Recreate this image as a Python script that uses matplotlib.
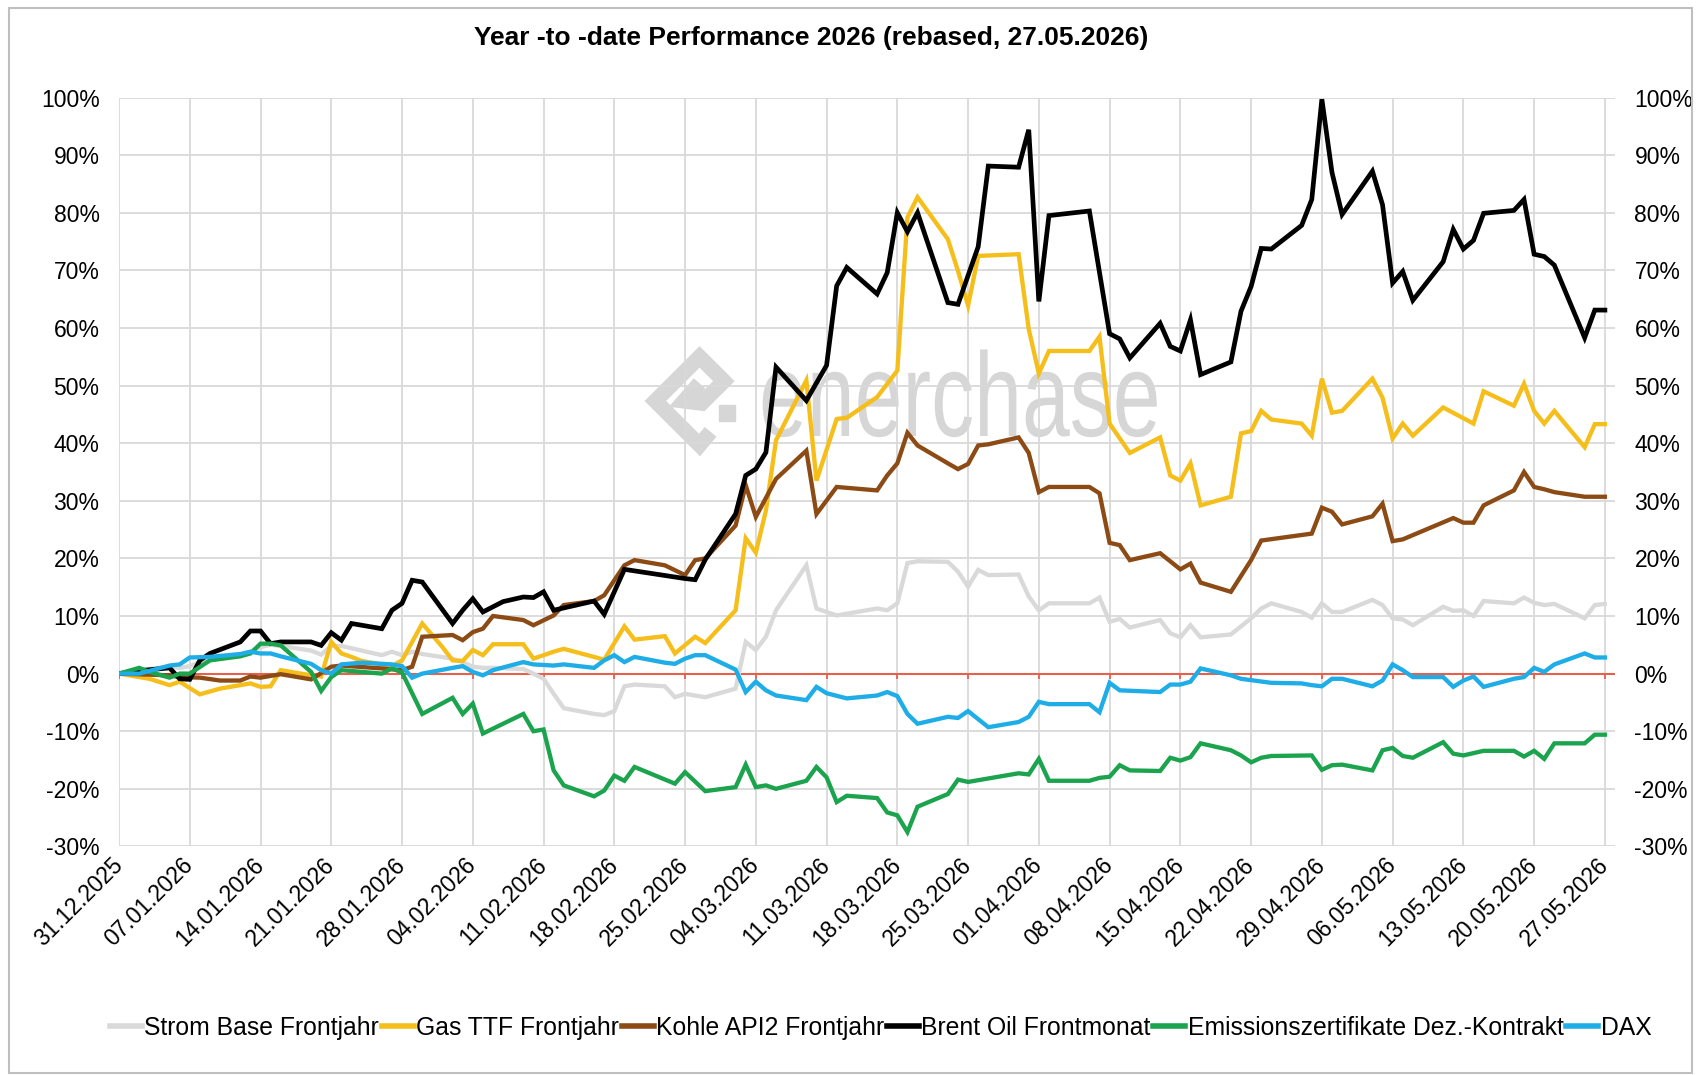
import numpy as np
import pandas as pd
import matplotlib
matplotlib.use("Agg")
import matplotlib.pyplot as plt
import matplotlib.transforms as mtransforms
from matplotlib.patches import Rectangle, Polygon, PathPatch
from matplotlib.lines import Line2D
from matplotlib.textpath import TextPath
from matplotlib.font_manager import FontProperties

plt.rcParams['font.family'] = ['Liberation Sans', 'DejaVu Sans']

# ================================================================
# Daten: Tage seit 31.12.2025, Performance in %
# ================================================================
start = pd.Timestamp('2025-12-31')
end = pd.Timestamp('2026-05-27')

strom_days = [0, 2, 5, 6, 7, 8, 9, 12, 13, 14, 15, 16, 19, 20, 21, 22, 23, 26, 27, 28, 29, 30,
              33, 34, 35, 36, 37, 40, 41, 42, 43, 44, 47, 48, 49, 50, 51, 54, 55, 56, 58,
              61, 62, 63, 64, 65, 68, 69, 71, 75, 76, 77, 78, 79, 82, 83, 84, 85, 86,
              89, 90, 91, 92, 96, 97, 98, 99, 100, 103, 104, 105, 106, 107, 110, 112, 113, 114,
              117, 118, 119, 120, 121, 124, 125, 126, 127, 128, 131, 132, 133, 134, 135,
              138, 139, 140, 141, 142, 145, 146, 147]
strom_vals = [0.0, 0.6, 1.2, 1.0, 1.3, 2.0, 2.4, 3.2, 3.8, 4.6, 5.0, 4.8, 4.0, 3.3, 4.8, 4.8, 4.4,
              3.2, 3.8, 3.2, 3.8, 3.4, 2.6, 2.0, 1.2, 1.0, 1.0, 0.8, 0.0, -0.9, -3.5, -6.0,
              -7.0, -7.2, -6.5, -2.2, -1.9, -2.2, -4.1, -3.5, -4.1, -2.6, 5.5, 4.1, 6.4, 11.0,
              18.8, 11.3, 10.1, 11.3, 11.0, 12.2, 19.2, 19.5, 19.4, 17.7, 15.1, 18.0, 17.1,
              17.2, 13.4, 11.0, 12.2, 12.2, 13.2, 9.0, 9.5, 8.0, 9.3, 7.0, 6.3, 8.4, 6.3,
              6.8, 9.6, 11.3, 12.2, 10.7, 9.7, 12.2, 10.7, 10.7, 12.8, 11.9, 9.6, 9.4, 8.4,
              11.6, 10.9, 11.0, 10.0, 12.6, 12.2, 13.2, 12.3, 11.9, 12.1, 9.6, 11.9, 12.1]

gas_days = [0, 3, 5, 6, 8, 10, 13, 14, 15, 16, 19, 20, 21, 22, 23, 24, 27, 28, 30, 32, 33, 34,
            35, 36, 37, 40, 41, 43, 44, 47, 48, 50, 51, 54, 55, 57, 58, 61, 62, 63, 64, 65,
            68, 69, 71, 72, 75, 77, 78, 79, 82, 83, 84, 85, 89, 90, 91, 92, 96, 97, 98, 100,
            103, 104, 105, 106, 107, 110, 111, 112, 113, 114, 117, 118, 119, 120, 121,
            124, 125, 126, 127, 128, 131, 134, 135, 138, 139, 140, 141, 142, 145, 146, 147]
gas_vals = [0.0, -0.9, -2.0, -1.4, -3.6, -2.6, -1.7, -2.3, -2.2, 0.6, -0.3, -0.5, 5.5, 3.5, 2.9,
            2.2, 1.3, 2.3, 8.7, 4.6, 2.3, 2.2, 4.1, 3.2, 5.1, 5.1, 2.6, 3.8, 4.3, 2.9, 2.4,
            8.2, 5.9, 6.5, 3.5, 6.4, 5.3, 11.0, 23.5, 21.0, 28.3, 40.5, 50.9, 33.5, 44.2,
            44.4, 48.0, 52.6, 79.2, 82.7, 75.4, 69.9, 63.9, 72.5, 72.8, 59.8, 52.1, 56.0,
            56.0, 58.5, 43.4, 38.3, 41.0, 34.4, 33.5, 36.5, 29.2, 30.7, 41.7, 42.1, 45.6,
            44.1, 43.4, 41.3, 51.2, 45.3, 45.6, 51.2, 47.9, 40.8, 43.4, 41.3, 46.2, 43.4,
            49.0, 46.5, 50.3, 45.6, 43.4, 45.6, 39.3, 43.3, 43.3]

kohle_days = [0, 5, 6, 8, 10, 12, 13, 14, 16, 19, 21, 22, 26, 28, 29, 30, 33, 34, 35, 36, 37,
              40, 41, 43, 44, 47, 48, 50, 51, 54, 56, 57, 58, 61, 62, 63, 65, 68, 69, 71,
              75, 76, 77, 78, 79, 82, 83, 84, 85, 86, 89, 90, 91, 92, 96, 97, 98, 99, 100,
              103, 105, 106, 107, 110, 112, 113, 118, 119, 120, 121, 124, 125, 126, 127,
              132, 133, 134, 135, 138, 139, 140, 141, 142, 145, 147]
kohle_vals = [0.0, -0.3, -0.6, -0.7, -1.2, -1.2, -0.5, -0.7, -0.1, -1.0, 1.2, 1.4, 0.9, 0.6,
              1.2, 6.4, 6.7, 5.8, 7.2, 7.8, 10.0, 9.3, 8.4, 10.1, 11.9, 12.6, 13.6, 18.8,
              19.7, 18.8, 17.1, 19.7, 20.0, 25.7, 32.7, 27.2, 33.8, 38.7, 27.7, 32.4, 31.8,
              34.4, 36.5, 41.8, 39.6, 36.5, 35.5, 36.4, 39.6, 39.8, 41.0, 38.3, 31.5, 32.4,
              32.4, 31.3, 22.7, 22.3, 19.7, 20.9, 18.1, 19.1, 15.8, 14.2, 19.7, 23.1, 24.3,
              28.8, 28.1, 25.9, 27.3, 29.5, 23.0, 23.3, 27.0, 26.2, 26.2, 29.2, 31.8, 35.0,
              32.4, 32.0, 31.5, 30.7, 30.7]

brent_days = [0, 2, 5, 6, 7, 8, 9, 12, 13, 14, 15, 16, 19, 20, 21, 22, 23, 26, 27, 28, 29, 30,
              33, 34, 35, 36, 37, 38, 40, 41, 42, 43, 47, 48, 50, 56, 57, 58, 61, 62, 63, 64,
              65, 68, 70, 71, 72, 75, 76, 77, 78, 79, 82, 83, 85, 86, 89, 90, 91, 92, 96,
              98, 99, 100, 103, 104, 105, 106, 107, 110, 111, 112, 113, 114, 117, 118, 119,
              120, 121, 124, 125, 126, 127, 128, 131, 132, 133, 134, 135, 138, 139, 140,
              141, 142, 145, 146, 147]
brent_vals = [0.0, 0.5, 1.0, -0.9, -1.0, 2.3, 3.5, 5.5, 7.4, 7.4, 5.2, 5.5, 5.5, 4.9, 7.1, 5.8,
              8.7, 7.8, 11.0, 12.2, 16.2, 15.9, 8.7, 11.0, 13.0, 10.7, 11.6, 12.5, 13.3, 13.2,
              14.2, 11.0, 12.6, 10.3, 18.1, 16.5, 16.3, 19.8, 27.7, 34.4, 35.5, 38.4, 53.2,
              47.4, 53.5, 67.3, 70.5, 65.9, 69.6, 80.0, 76.7, 80.0, 64.4, 64.1, 74.1, 88.1,
              87.9, 94.4, 64.6, 79.5, 80.3, 59.0, 58.1, 54.8, 60.8, 56.8, 56.0, 61.4, 51.9,
              54.1, 62.9, 67.2, 73.8, 73.7, 77.8, 82.3, 99.7, 87.0, 79.7, 87.2, 81.4, 67.8,
              69.8, 64.8, 71.5, 77.1, 73.7, 75.2, 79.9, 80.4, 82.3, 72.8, 72.4, 70.9, 58.3,
              63.1, 63.1]

emis_days = [0, 2, 3, 5, 6, 7, 9, 12, 13, 14, 15, 16, 19, 20, 21, 22, 26, 27, 28, 30, 33, 34,
             35, 36, 40, 41, 42, 43, 44, 47, 48, 49, 50, 51, 55, 56, 58, 61, 62, 63, 64, 65,
             68, 69, 70, 71, 72, 75, 76, 77, 78, 79, 82, 83, 84, 89, 90, 91, 92, 96, 97, 98,
             99, 100, 103, 104, 105, 106, 107, 110, 111, 112, 113, 114, 118, 119, 120, 121,
             124, 125, 126, 127, 128, 131, 132, 133, 135, 138, 139, 140, 141, 142, 145, 146, 147]
emis_vals = [0.0, 1.0, 0.3, -0.7, 0.0, 0.0, 2.3, 3.0, 3.5, 5.2, 5.2, 4.9, 0.3, -3.0, -0.6, 0.6,
             0.0, 0.9, 0.2, -7.0, -4.2, -7.0, -5.2, -10.4, -7.0, -10.0, -9.7, -16.8, -19.4,
             -21.3, -20.3, -17.7, -18.6, -16.2, -19.1, -17.1, -20.4, -19.7, -15.8, -19.7,
             -19.4, -20.0, -18.6, -16.2, -18.0, -22.3, -21.2, -21.6, -24.1, -24.6, -27.5,
             -23.1, -20.9, -18.4, -18.8, -17.3, -17.5, -14.8, -18.6, -18.6, -18.1, -17.9,
             -15.9, -16.8, -16.9, -14.6, -15.1, -14.5, -12.1, -13.3, -14.2, -15.4, -14.6,
             -14.3, -14.2, -16.7, -15.9, -15.8, -16.8, -13.3, -12.9, -14.3, -14.6, -11.9,
             -13.9, -14.2, -13.4, -13.4, -14.4, -13.4, -14.8, -12.1, -12.1, -10.6, -10.6]

dax_days = [0, 2, 5, 6, 7, 9, 12, 13, 14, 15, 16, 19, 20, 21, 22, 24, 27, 28, 29, 30, 33, 34,
            35, 36, 37, 40, 41, 43, 44, 47, 48, 49, 50, 51, 54, 55, 56, 57, 58, 61, 62, 63,
            64, 65, 68, 69, 70, 72, 75, 76, 77, 78, 79, 82, 83, 84, 86, 89, 90, 91, 92, 96,
            97, 98, 99, 103, 104, 105, 106, 107, 110, 111, 114, 117, 118, 119, 120, 121, 124,
            125, 126, 127, 128, 131, 132, 133, 134, 135, 138, 139, 140, 141, 142, 145, 146, 147]
dax_vals = [0.0, 0.0, 1.4, 1.6, 2.8, 2.9, 3.4, 3.8, 3.5, 3.5, 3.0, 1.7, 0.6, 0.0, 1.6, 1.9, 1.6,
            1.3, -0.7, 0.0, 1.0, 1.3, 0.3, -0.3, 0.6, 2.0, 1.6, 1.4, 1.6, 1.0, 2.3, 3.2, 2.0,
            2.9, 1.9, 1.7, 2.6, 3.2, 3.2, 0.7, -3.2, -1.4, -2.9, -3.8, -4.6, -2.3, -3.4, -4.3,
            -3.8, -3.2, -3.9, -7.0, -8.7, -7.5, -7.7, -6.5, -9.3, -8.4, -7.5, -4.9, -5.3,
            -5.3, -6.7, -1.6, -2.9, -3.2, -1.9, -1.9, -1.4, 0.9, -0.3, -0.9, -1.6, -1.7, -2.0,
            -2.2, -0.9, -0.9, -2.2, -1.2, 1.6, 0.6, -0.6, -0.6, -2.3, -1.2, -0.5, -2.3, -0.9,
            -0.6, 1.0, 0.3, 1.6, 3.5, 2.8, 2.8]

labels = ['Strom Base Frontjahr', 'Gas TTF Frontjahr', 'Kohle API2 Frontjahr',
          'Brent Oil Frontmonat', 'Emissionszertifikate Dez.-Kontrakt', 'DAX']
colors = ['#D9D9D9', '#F5BE1B', '#8C4A14', '#000000', '#1BA34E', '#1EADE6']
all_days = [strom_days, gas_days, kohle_days, brent_days, emis_days, dax_days]
all_vals = [strom_vals, gas_vals, kohle_vals, brent_vals, emis_vals, dax_vals]

title = 'Year -to -date Performance 2026 (rebased, 27.05.2026)'
y_ticks = list(range(-30, 101, 10))

# ================================================================
# Plot
# ================================================================
fig = plt.figure(figsize=(17, 10.75), dpi=100)
ax = fig.add_axes([0.070, 0.2126, 0.880, 0.6967])
ax.patch.set_alpha(0)

week_ticks = pd.date_range(start, end, freq='7D')
grid_c = '#D9D9D9'
zero_c = '#E8604C'
wm_c = '#D6D6D6'

# Wasserzeichen (schmale Schrift -> horizontal gestaucht)
tp = TextPath((0, 0), 'enerchase', size=86, prop=FontProperties(family='Liberation Sans'))
wm_trans = mtransforms.Affine2D().scale(0.72 / 72, 1 / 72).translate(7.59, 6.39) + fig.dpi_scale_trans
fig.add_artist(PathPatch(tp, fc=wm_c, ec='none', transform=wm_trans, zorder=0))

cx, cy, rx, ry = 0.4115, 0.627, 0.026, 0.041
fig.add_artist(Polygon([(cx + rx * 0.25, cy - ry * 0.7), (cx, cy - ry), (cx - rx, cy),
                        (cx, cy + ry), (cx + rx * 0.55, cy + ry * 0.45),
                        (cx + rx * 0.05, cy - ry * 0.05), (cx - rx * 0.35, cy + ry * 0.0),
                        (cx, cy + ry * 0.4)], closed=False, fill=False, ec=wm_c, lw=11,
                       transform=fig.transFigure, joinstyle='miter', zorder=0))
fig.add_artist(Rectangle((cx + rx * 0.45, cy - ry * 0.45), rx * 0.35, ry * 0.35,
                         color=wm_c, transform=fig.transFigure, zorder=0))

ax.set_xlim(start, end + pd.Timedelta(days=1))
ax.set_ylim(-30, 100)
ax.set_xticks(week_ticks)
ax.set_xticklabels([d.strftime('%d.%m.%Y') for d in week_ticks], rotation=45,
                   ha='right', va='center', rotation_mode='anchor', fontsize=16.5)
ax.set_yticks(y_ticks)
ax.set_yticklabels([f'{v}%' for v in y_ticks], fontsize=16.5)
ax.tick_params(axis='both', length=0)
ax.tick_params(axis='x', pad=11)
ax.tick_params(axis='y', pad=14)
ax.grid(True, color=grid_c, lw=1.3)
ax.set_axisbelow(True)
for s in ax.spines.values():
    s.set_visible(False)

# Nulllinie mit kleinen Ticks
ax.axhline(0, color=zero_c, lw=1.5, zorder=1)
ax.vlines(week_ticks, -0.9, 0, color=zero_c, lw=1.3, zorder=1)

for lab, c, d, v in zip(labels, colors, all_days, all_vals):
    x = start + pd.to_timedelta(d, unit='D')
    lw = 3.4 if c == '#000000' else 3.1
    ax.plot(x, v, color=c, lw=lw, solid_joinstyle='miter', label=lab, zorder=3)

# rechte Achse
ax2 = ax.twinx()
ax2.set_ylim(-30, 100)
ax2.set_yticks(y_ticks)
ax2.set_yticklabels([f'{v}%' for v in y_ticks], fontsize=16.5)
ax2.tick_params(axis='y', length=0, pad=14)
for s in ax2.spines.values():
    s.set_visible(False)

fig.text(0.477, 0.965, title, ha='center', va='center', fontsize=19, fontweight='bold')

handles = [Line2D([0], [0], color=c, lw=4) for c in colors]
fig.legend(handles, labels, loc='center', bbox_to_anchor=(0.518, 0.044), ncol=6,
           frameon=False, fontsize=17.8, handlelength=1.3, handletextpad=0.1,
           columnspacing=0.1)

fig.add_artist(Rectangle((0.005, 0.002), 0.99, 0.991, fill=False, ec='#BFBFBF', lw=1.5,
                         transform=fig.transFigure))

plt.savefig('out.png', dpi=100)
